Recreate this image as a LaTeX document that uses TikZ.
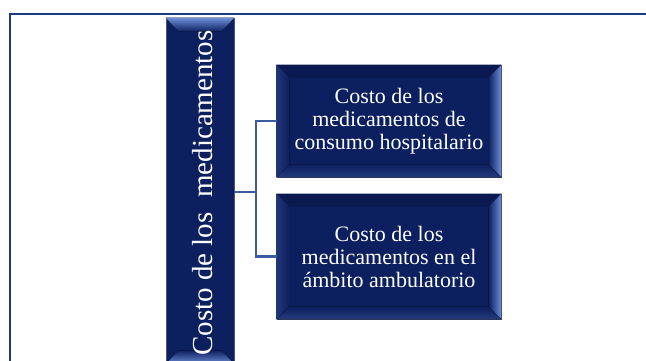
\documentclass[tikz,border=0pt]{standalone}
\usepackage{fontspec}
\setmainfont{Liberation Serif}
\definecolor{marine}{HTML}{0C1F5E}
\definecolor{bleuclair}{HTML}{6F8FD8}
\definecolor{cadre}{HTML}{1F3A7A}
\definecolor{trait}{HTML}{3A5BA0}
\tikzset{
  boite/.style={fill=marine, draw=marine!45!gray, line width=0.6pt, text=white,
    align=center, text width=210pt, inner sep=0pt, minimum width=224pt,
    font=\fontsize{22}{23}\selectfont},
  barre/.style={fill=marine, draw=marine!45!gray, line width=0.6pt,
    minimum width=68pt, minimum height=346pt, inner sep=0pt},
  lien/.style={draw=trait, line width=2.5pt},
}
% biseau d'une boite : #1 nom du noeud, #2 largeur
\newcommand{\biseau}[2]{%
  \fill[left color=marine!80!bleuclair, right color=marine] (#1.north west) -- (#1.south west)
    -- ([shift={(#2,#2)}]#1.south west) -- ([shift={(#2,-#2)}]#1.north west) -- cycle;
  \fill[left color=marine, right color=bleuclair] (#1.north east) -- (#1.south east)
    -- ([shift={(-#2,#2)}]#1.south east) -- ([shift={(-#2,-#2)}]#1.north east) -- cycle;
  \fill[marine!85!black] (#1.north west) -- (#1.north east)
    -- ([shift={(-#2,-#2)}]#1.north east) -- ([shift={(#2,-#2)}]#1.north west) -- cycle;
  \fill[bottom color=marine!75!bleuclair, top color=marine] (#1.south west) -- (#1.south east)
    -- ([shift={(-#2,#2)}]#1.south east) -- ([shift={(#2,#2)}]#1.south west) -- cycle;
}
\begin{document}
\begin{tikzpicture}[x=1pt, y=1pt]
\useasboundingbox (0,0) rectangle (646,361);
% Cadre
\draw [cadre, line width=2.5pt] (10,-2) -- (10,347) -- (648,347);
% Barre verticale
\node [barre] (bar) at (200,170) {};
\fill [top color=bleuclair, bottom color=marine] (bar.north west) -- (bar.north east)
  -- ([shift={(-13,-14)}]bar.north east) -- ([shift={(13,-14)}]bar.north west) -- cycle;
\fill [bottom color=bleuclair, top color=marine] (bar.south west) -- (bar.south east)
  -- ([shift={(-13,14)}]bar.south east) -- ([shift={(13,14)}]bar.south west) -- cycle;
\node [rotate=90, text=white, font=\fontsize{29}{29}\selectfont] (titre) at (203,168)
  {Costo de los \ medicamentos};
% Boites
\node [boite, minimum height=112pt] (b1) at (389,240) {};
\biseau{b1}{13}
\node [text=white, align=center, font=\fontsize{22}{23}\selectfont] (t1) at (b1)
  {Costo de los\\medicamentos de\\consumo hospitalario};
\node [boite, minimum height=125pt] (b2) at (389,104.5) {};
\biseau{b2}{13}
\node [text=white, align=center, font=\fontsize{22}{23}\selectfont] (t2) at (b2)
  {Costo de los\\medicamentos en el\\ámbito ambulatorio};
% Liens
\coordinate (jn) at (256,169);
\draw [lien] (bar.east |- jn) -- (jn);
\draw [lien] (b1.west) -| (jn) |- (b2.west);
\end{tikzpicture}
\end{document}
